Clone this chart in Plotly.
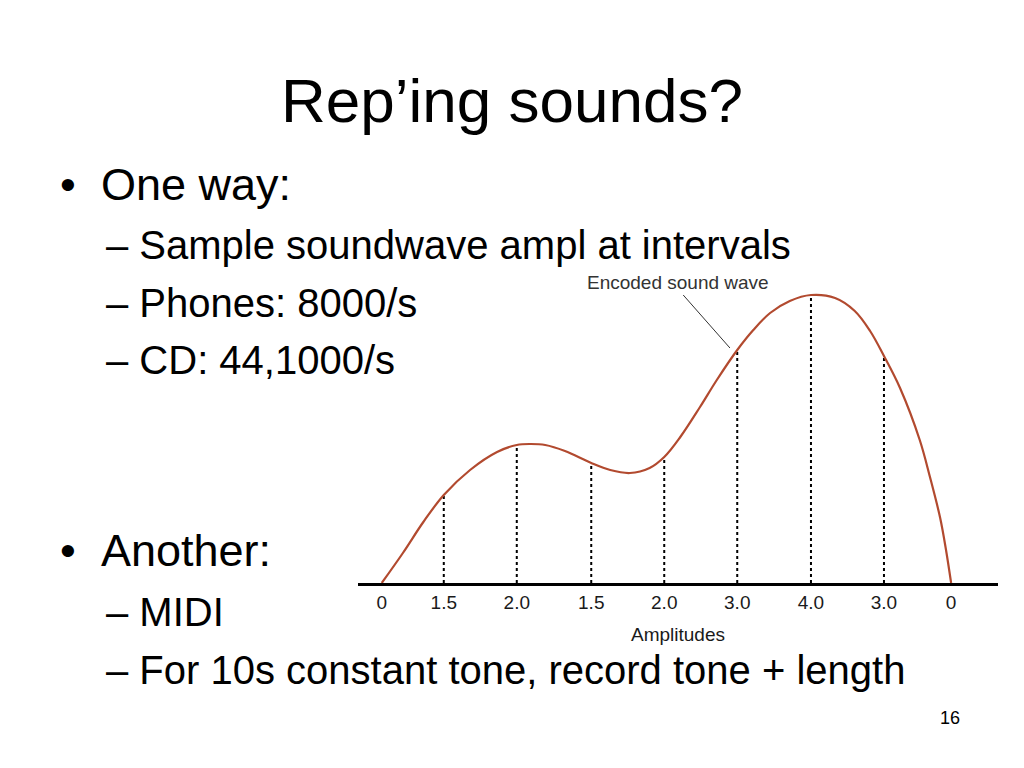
import plotly.graph_objects as go

# ---- data ----
sample_t = [0.01, 0.86, 1.86, 2.88, 3.88, 4.88, 5.89, 6.89, 7.81]
sample_h = [0.0, 8.8, 13.8, 12.0, 12.6, 23.3, 28.8, 22.7, 0.0]
amp_labels = ["0", "1.5", "2.0", "1.5", "2.0", "3.0", "4.0", "3.0", "0"]

wave_t = [0.01, 0.30, 0.58, 0.86, 1.22, 1.59, 1.86, 2.04, 2.25, 2.52, 2.88, 3.14,
          3.41, 3.68, 3.88, 4.10, 4.37, 4.60, 4.88, 5.10, 5.33, 5.60, 5.89, 6.22,
          6.49, 6.70, 6.89, 7.11, 7.38, 7.52, 7.66, 7.74, 7.81]
wave_h = [0.0, 3.0, 6.1, 8.8, 11.3, 13.1, 13.8, 13.9, 13.8, 13.2, 12.0, 11.3,
          11.0, 11.5, 12.6, 14.6, 17.6, 20.3, 23.3, 25.3, 27.0, 28.2, 28.8, 28.5,
          27.2, 25.2, 22.7, 19.5, 14.3, 10.6, 6.5, 3.3, 0.0]

leader_t = [4.14, 4.78]
leader_h = [28.8, 23.5]

title_text = "Rep\u2019ing sounds?"
bullets = [("\u2022", "One way:", 185), ("\u2022", "Another:", 550)]
subbullets = [
    ("\u2013 Sample soundwave ampl at intervals", 245),
    ("\u2013 Phones: 8000/s", 303),
    ("\u2013 CD: 44,1000/s", 360),
    ("\u2013 MIDI", 612),
    ("\u2013 For 10s constant tone, record tone + length", 670),
]
page_number = "16"

# ---- layout geometry (pixels) ----
W, H = 1024, 768
OFF = 8  # page body margin
PW, PH = 640, 313
ML = 358 - OFF
MT = 270 - OFF
MR = W - ML - PW
MB = H - MT - PH


def px_x(x):
    return (x - OFF - ML) / PW


def px_y(y):
    return (MT + PH - (y - OFF)) / PH


FONT = "Liberation Sans, Arial, Helvetica, sans-serif"
WAVE_COLOR = "#B24A2F"

fig = go.Figure()

# dotted sample lines
for t, h in zip(sample_t[1:-1], sample_h[1:-1]):
    fig.add_trace(go.Scatter(x=[t, t], y=[0, h], mode="lines",
                             line=dict(color="black", width=2, dash="dot"),
                             hoverinfo="skip", showlegend=False))

# wave
fig.add_trace(go.Scatter(x=wave_t, y=wave_h, mode="lines",
                         line=dict(color=WAVE_COLOR, width=2.2, shape="spline", smoothing=1.0),
                         showlegend=False))

# leader line
fig.add_trace(go.Scatter(x=leader_t, y=leader_h, mode="lines",
                         line=dict(color="#333333", width=1),
                         hoverinfo="skip", showlegend=False))

annotations = []
annotations.append(dict(x=4.07, y=30.1, xref="x", yref="y", text="Encoded sound wave",
                        showarrow=False, font=dict(family=FONT, size=19, color="#333333"),
                        xanchor="center", yanchor="middle"))

# slide text
annotations.append(dict(x=px_x(512), y=px_y(100), xref="paper", yref="paper", text=title_text,
                        showarrow=False, font=dict(family=FONT, size=62, color="black"),
                        xanchor="center", yanchor="middle"))
for dot, txt, y in bullets:
    annotations.append(dict(x=px_x(58), y=px_y(y), xref="paper", yref="paper", text=dot,
                            showarrow=False, font=dict(family=FONT, size=45, color="black"),
                            xanchor="left", yanchor="middle"))
    annotations.append(dict(x=px_x(99), y=px_y(y), xref="paper", yref="paper", text=txt,
                            showarrow=False, font=dict(family=FONT, size=45, color="black"),
                            xanchor="left", yanchor="middle"))
for txt, y in subbullets:
    annotations.append(dict(x=px_x(104), y=px_y(y), xref="paper", yref="paper", text=txt,
                            showarrow=False, font=dict(family=FONT, size=40, color="black"),
                            xanchor="left", yanchor="middle"))
annotations.append(dict(x=px_x(950), y=px_y(718), xref="paper", yref="paper", text=page_number,
                        showarrow=False, font=dict(family=FONT, size=18, color="black"),
                        xanchor="center", yanchor="middle"))

fig.update_layout(
    width=W, height=H,
    margin=dict(l=ML, r=MR, t=MT, b=MB, pad=0),
    paper_bgcolor="white", plot_bgcolor="white",
    annotations=annotations,
    showlegend=False,
    xaxis=dict(range=[(358 - 381) / 73, (998 - 381) / 73],
               tickvals=sample_t, ticktext=amp_labels,
               tickfont=dict(family=FONT, size=19, color="#1a1a1a"),
               showgrid=False, zeroline=False, showline=True, linecolor="black", linewidth=3,
               ticks="", fixedrange=True,
               title=dict(text="Amplitudes", font=dict(family=FONT, size=19, color="#1a1a1a"), standoff=16)),
    yaxis=dict(range=[0, PH / 10], visible=False, fixedrange=True),
)

fig.write_html("out.html")
